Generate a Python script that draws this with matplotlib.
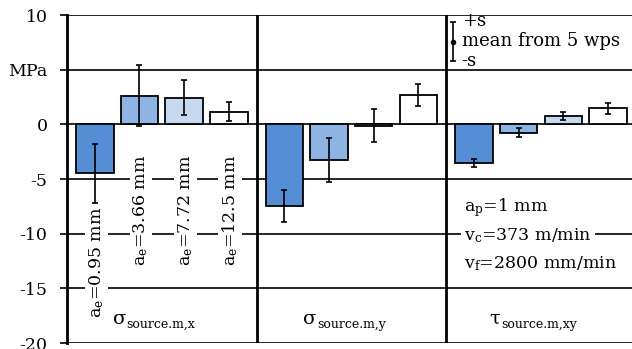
import matplotlib
matplotlib.use("Agg")
import matplotlib.pyplot as plt
import matplotlib.transforms as mtransforms
import numpy as np

plt.rcParams['font.family'] = ['DejaVu Serif']
plt.rcParams['mathtext.fontset'] = 'custom'
plt.rcParams['mathtext.rm'] = 'DejaVu Serif'
plt.rcParams['mathtext.it'] = 'DejaVu Serif:italic'

group_symbols = ["σ", "σ", "τ"]
group_subs = ["source.m,x", "source.m,y", "source.m,xy"]
ae_labels = [r"a$_{\rm e}$=0.95 mm", r"a$_{\rm e}$=3.66 mm", r"a$_{\rm e}$=7.72 mm", r"a$_{\rm e}$=12.5 mm"]
means = [
    [-4.47, 2.63, 2.45, 1.16],
    [-7.43, -3.24, -0.12, 2.69],
    [-3.50, -0.76, 0.76, 1.45],
]
stds = [
    [2.68, 2.80, 1.57, 0.90],
    [1.46, 2.00, 1.50, 1.03],
    [0.37, 0.38, 0.38, 0.50],
]
colors = ['#558ED5', '#8EB4E3', '#C6D9F1', '#FFFFFF']
yticks = [-20, -15, -10, -5, 0, 5, 10]
yticklabels = ['-20', '-15', '-10', '-5', '0', 'MPa', '10']
params = [r"a$_{\rm p}$=1 mm", r"v$_{\rm c}$=373 m/min", r"v$_{\rm f}$=2800 mm/min"]

fig = plt.figure(figsize=(6.32, 3.49), dpi=100)
W, H = 632, 349
ax = fig.add_axes([67 / W, 1 - 343 / H, (632 - 67) / W, (343 - 15) / H])
ax.set_xlim(0, 2.98)
ax.set_ylim(-20, 10)

for y in yticks:
    ax.axhline(y, color='black', lw=1.2, zorder=1)
for g in [1, 2]:
    ax.axvline(g, color='black', lw=2.0, zorder=1)

pitch = 0.2354
bw = 0.198
for gi in range(3):
    for j in range(4):
        xc = gi + 0.5 + (j - 1.5) * pitch
        ax.bar(xc, means[gi][j], width=bw, color=colors[j], edgecolor='black',
               linewidth=1.3, zorder=3)
        ax.errorbar(xc, means[gi][j], yerr=stds[gi][j], color='black', lw=1.2,
                    capsize=2, capthick=1.2, zorder=4)

# rotated a_e labels in group 1
label_bottoms = [-17.7, -12.95, -12.95, -12.95]
for j in range(4):
    xc = 0.5 + (j - 1.5) * pitch + 0.008
    ax.text(xc, label_bottoms[j], ae_labels[j], rotation=90, ha='center', va='bottom',
            fontsize=12.5, zorder=5,
            bbox=dict(facecolor='white', edgecolor='none', pad=1.5))

# group labels (symbol + smaller subscript)
pivots = [0.311, 0.314, 0.285]
sub_tr = mtransforms.offset_copy(ax.transData, fig=fig, x=0, y=-4, units='points')
for gi in range(3):
    xp = gi + pivots[gi]
    ax.text(xp, -17.8, group_symbols[gi], ha='right', va='center', fontsize=14, zorder=5)
    ax.text(xp + 0.004, -17.8, group_subs[gi], ha='left', va='center', fontsize=9,
            zorder=5, transform=sub_tr)

# parameter text
param_y = [-7.6, -10.15, -12.75]
for k, t in enumerate(params):
    ax.text(2.095, param_y[k], t, ha='left', va='center', fontsize=12.5, zorder=5,
            bbox=dict(facecolor='white', edgecolor='none', pad=2) if k == 1 else None)

# legend glyph
ax.errorbar(2.037, 7.57, yerr=1.8, color='black', lw=1.2, capsize=2, capthick=1.2,
            marker='o', markersize=3, zorder=5)
ax.text(2.082, 9.45, "+s", ha='left', va='center', fontsize=13, zorder=5)
ax.text(2.082, 7.65, "mean from 5 wps", ha='left', va='center', fontsize=13, zorder=5)
ax.text(2.082, 5.8, "-s", ha='left', va='center', fontsize=13, zorder=5)

ax.set_xticks([])
ax.set_yticks(yticks)
ax.set_yticklabels(yticklabels, fontsize=12.5)
ax.tick_params(axis='y', direction='out', length=5, width=1.2, pad=9)
for s in ['top', 'right', 'bottom']:
    ax.spines[s].set_visible(False)
ax.spines['left'].set_linewidth(2.0)
ax.patch.set_alpha(0)

fig.savefig('out.png', dpi=100)
